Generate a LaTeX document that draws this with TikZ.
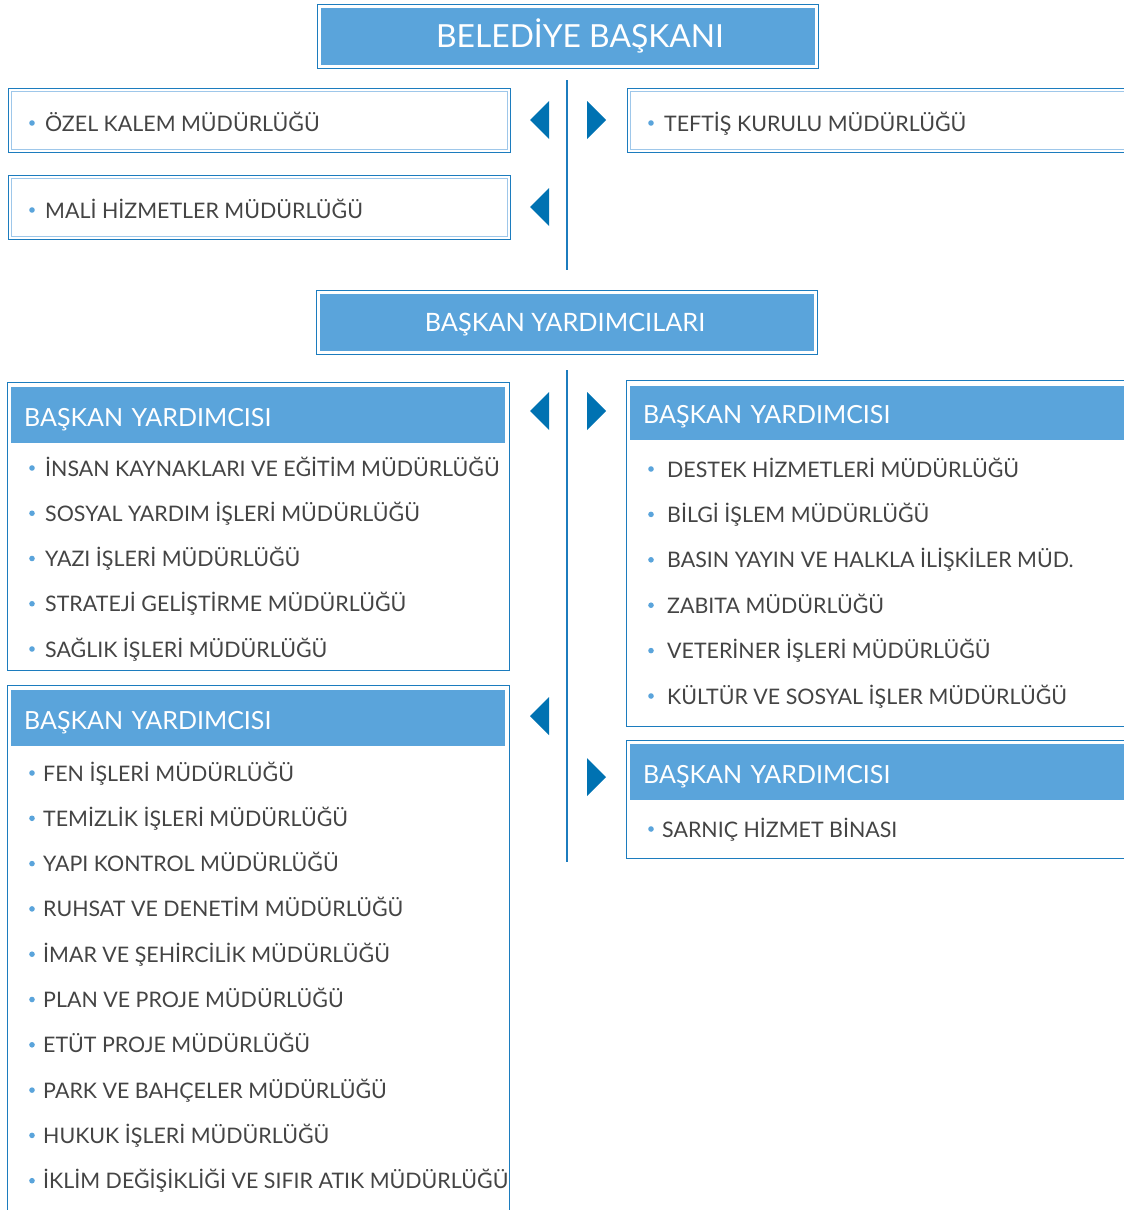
\documentclass[tikz,border=0pt]{standalone}
\usepackage{fontspec}
\setmainfont{Lato}
\usetikzlibrary{positioning}
\definecolor{bdr}{RGB}{28,124,190}
\definecolor{hdfill}{RGB}{90,164,219}
\definecolor{ltline}{RGB}{158,199,234}
\definecolor{arr}{RGB}{0,114,178}
\definecolor{txt}{RGB}{68,68,68}
\tikzstyle{bigbox}=[draw=bdr,line width=1.3pt,fill=white,inner sep=0pt,anchor=north west,minimum width=501pt,minimum height=64pt,
  path picture={\fill[hdfill] ([shift={(3.5,3.5)}]path picture bounding box.north west) rectangle ([shift={(-3.5,-3.5)}]path picture bounding box.south east);}]
\tikzstyle{bigtext}=[text=white,inner sep=0pt,font=\fontsize{31.8}{36}\selectfont]
\tikzstyle{unitbox}=[draw=bdr,line width=1.3pt,anchor=north west,minimum width=502pt,minimum height=64pt,inner sep=0pt,
  path picture={\draw[ltline,line width=1.3pt] ([shift={(3,3)}]path picture bounding box.north west) rectangle ([shift={(-3,-3)}]path picture bounding box.south east);}]
\tikzstyle{panel}=[draw=bdr,line width=1.3pt,anchor=north west,minimum width=502pt,inner sep=0pt]
\tikzstyle{head}=[fill=hdfill,anchor=north west,minimum width=494pt,minimum height=56pt,inner xsep=13pt,inner ysep=0pt,
  text width=468pt,text height=22pt,text depth=0pt,align=left,text=white,font=\fontsize{25}{29}\selectfont]
\tikzstyle{item}=[anchor=base west,inner sep=0pt,text=txt,font=\fontsize{21.4}{25}\selectfont]
\tikzstyle{sep}=[draw=bdr,line width=1.4pt]
\newcommand{\bul}[2]{\fill[hdfill] (#1,#2) circle (2.8);}
\newcommand{\larr}[1]{\fill[arr] (549,{#1-19}) -- (549,{#1+19}) -- (530,#1) -- cycle;}
\newcommand{\rarr}[1]{\fill[arr] (587,{#1-19}) -- (587,{#1+19}) -- (606,#1) -- cycle;}

\begin{document}
\begin{tikzpicture}[x=1pt,y=-1pt]
\clip (0,0) rectangle (1124,1210);
% baskan
\node[bigbox] (mayor) at (317,4) {};
\node[bigtext] (mayort) at (580,36) {BELEDİYE BAŞKANI};
\node[unitbox] (ozel) at (8,88) {};
\node[unitbox] (mali) at (8,175) {};
\node[unitbox] (teftis) at (627,88) {};
\bul{32}{123} \node[item] (ozelt) at (45,131) {ÖZEL KALEM MÜDÜRLÜĞÜ};
\bul{32}{210} \node[item] (malit) at (45,218) {MALİ HİZMETLER MÜDÜRLÜĞÜ};
\bul{651}{123} \node[item] (teftist) at (664,131) {TEFTİŞ KURULU MÜDÜRLÜĞÜ};
\coordinate (s1) at (567,80);
\coordinate (s2) at (567,270);
\draw[sep] (s1) -- (s2);
\larr{120} \rarr{120} \larr{207}
% yardimcilar
\node[bigbox] (deps) at (316,290) {};
\node[bigtext,font=\fontsize{25.3}{29}\selectfont] (depst) at (565,325) {BAŞKAN YARDIMCILARI};
\coordinate (s3) at (567,370);
\coordinate (s4) at (567,862);
\draw[sep] (s3) -- (s4);
\larr{411} \rarr{411} \larr{716} \rarr{777}
% sol 1
\node[panel,minimum height=288pt] (vp1) at (7,382) {};
\node[head] (vp1h) at (11,387) {BAŞKAN YARDIMCISI};
\foreach \t [count=\i from 0] in {İNSAN KAYNAKLARI VE EĞİTİM MÜDÜRLÜĞÜ,SOSYAL YARDIM İŞLERİ MÜDÜRLÜĞÜ,YAZI İŞLERİ MÜDÜRLÜĞÜ,
  STRATEJİ GELİŞTİRME MÜDÜRLÜĞÜ,SAĞLIK İŞLERİ MÜDÜRLÜĞÜ}{
  \bul{32}{468+45.25*\i}
  \node[item] (a\i) at (45,{476+45.25*\i}) {\t};
}
% sol 2
\node[panel,minimum height=535pt] (vp2) at (7,685) {};
\node[head] (vp2h) at (11,690) {BAŞKAN YARDIMCISI};
\foreach \t [count=\i from 0] in {FEN İŞLERİ MÜDÜRLÜĞÜ,TEMİZLİK İŞLERİ MÜDÜRLÜĞÜ,YAPI KONTROL MÜDÜRLÜĞÜ,RUHSAT VE DENETİM MÜDÜRLÜĞÜ,
  İMAR VE ŞEHİRCİLİK MÜDÜRLÜĞÜ,PLAN VE PROJE MÜDÜRLÜĞÜ,ETÜT PROJE MÜDÜRLÜĞÜ,PARK VE BAHÇELER MÜDÜRLÜĞÜ,
  HUKUK İŞLERİ MÜDÜRLÜĞÜ,İKLİM DEĞİŞİKLİĞİ VE SIFIR ATIK MÜDÜRLÜĞÜ}{
  \bul{32}{773+45.3*\i}
  \node[item] (b\i) at (43,{781+45.3*\i}) {\t};
}
% sag 1
\node[panel,minimum height=346pt,minimum width=510pt] (vp3) at (626,380) {};
\node[head,minimum height=54pt,minimum width=500pt,text width=474pt,text height=20pt] (vp3h) at (630,386) {BAŞKAN YARDIMCISI};
\foreach \t [count=\i from 0] in {DESTEK HİZMETLERİ MÜDÜRLÜĞÜ,BİLGİ İŞLEM MÜDÜRLÜĞÜ,BASIN YAYIN VE HALKLA İLİŞKİLER MÜD.,
  ZABITA MÜDÜRLÜĞÜ,VETERİNER İŞLERİ MÜDÜRLÜĞÜ,KÜLTÜR VE SOSYAL İŞLER MÜDÜRLÜĞÜ}{
  \bul{651}{469+45.4*\i}
  \node[item] (c\i) at (667,{477+45.4*\i}) {\t};
}
% sag 2
\node[panel,minimum height=118pt,minimum width=510pt] (vp4) at (626,740) {};
\node[head,minimum width=500pt,text width=474pt] (vp4h) at (630,744) {BAŞKAN YARDIMCISI};
\bul{651}{829} \node[item] (d0) at (662,837) {SARNIÇ HİZMET BİNASI};
\end{tikzpicture}
\end{document}
